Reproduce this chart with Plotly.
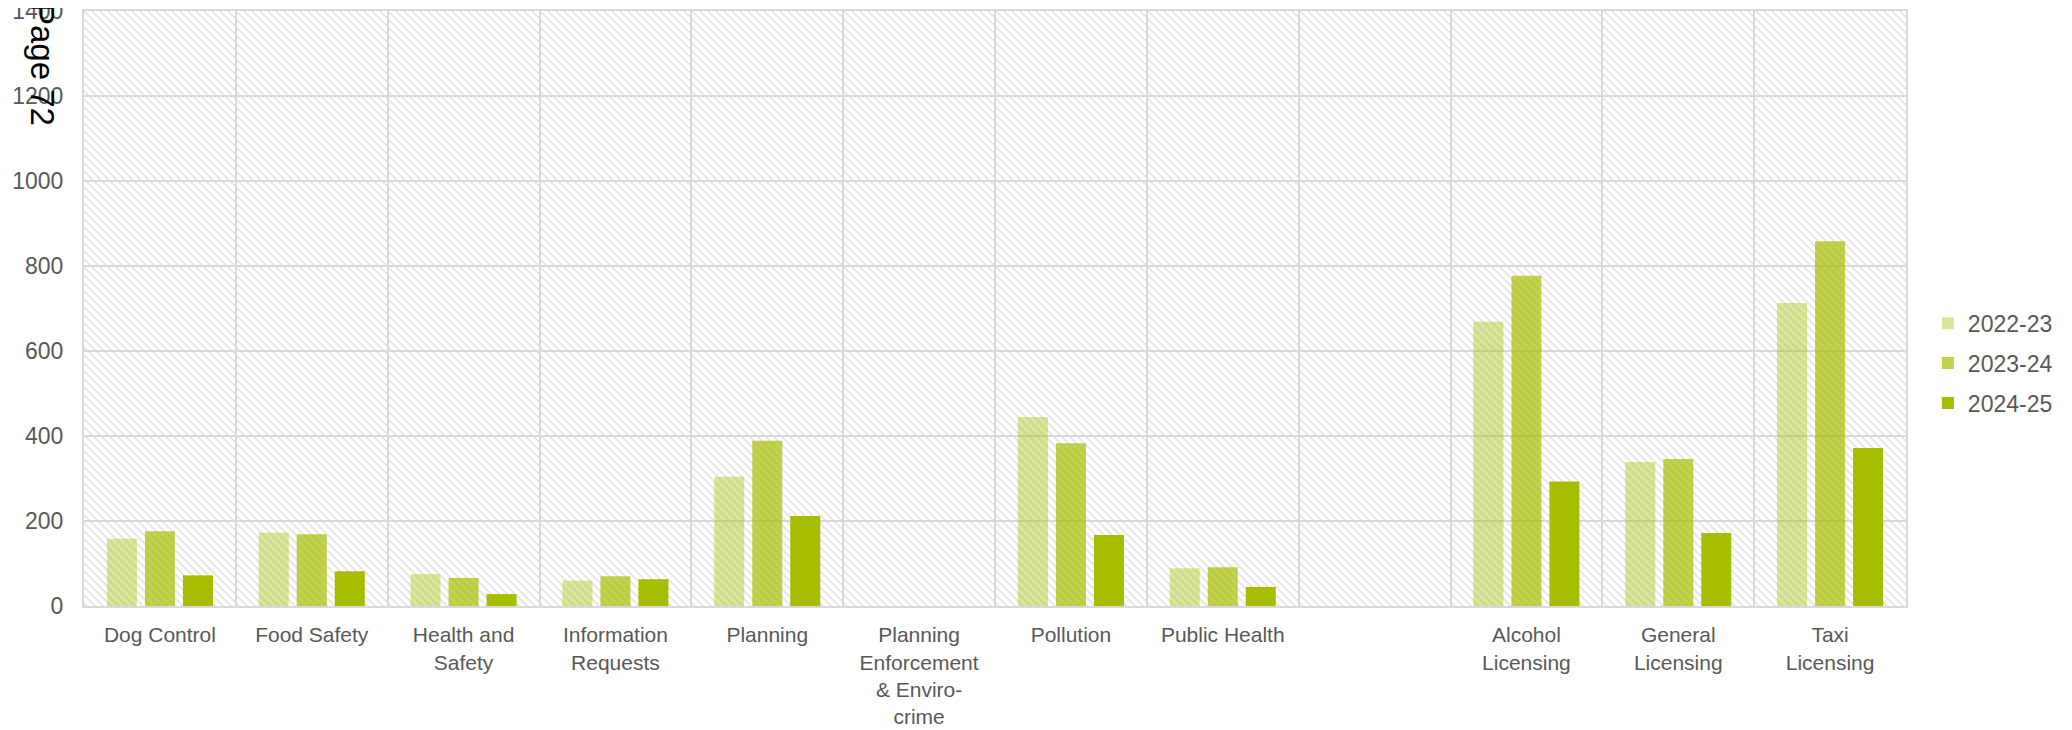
import base64
import plotly.graph_objects as go

categories = [
    "Dog Control", "Food Safety", "Health and<br>Safety", "Information<br>Requests",
    "Planning", "Planning<br>Enforcement<br>& Enviro-<br>crime", "Pollution",
    "Public Health", " ", "Alcohol<br>Licensing", "General<br>Licensing", "Taxi<br>Licensing",
]
series_names = ["2022-23", "2023-24", "2024-25"]
values_2022_23 = [158, 173, 75, 60, 304, None, 445, 89, None, 669, 339, 713]
values_2023_24 = [176, 169, 66, 70, 389, None, 383, 91, None, 777, 346, 858]
values_2024_25 = [72, 82, 28, 63, 212, None, 167, 45, None, 293, 172, 372]
y_ticks = [0, 200, 400, 600, 800, 1000, 1200, 1400]

colors = ["rgba(166,189,0,0.40)", "rgba(166,189,0,0.70)", "rgb(166,189,0)"]
FONT = "Liberation Sans, Arial, sans-serif"
TXT = "#595959"
GRID = "#d9d9d9"

# page body has an 8px margin, so the figure is sized to fit the window
W, H = 2064, 722
L, R, T, B = 76, 166, 3, 124
PW, PH = W - L - R, H - T - B

svg = f'''<svg xmlns="http://www.w3.org/2000/svg" width="{PW}" height="{PH}" viewBox="0 0 {PW} {PH}" preserveAspectRatio="none">
<defs><pattern id="h" width="8" height="8" patternUnits="userSpaceOnUse">
<path d="M-2,-2 L10,10 M-2,6 L2,10 M6,-2 L10,2" stroke="#dfdfdf" stroke-width="1.4"/>
</pattern></defs>
<rect width="{PW}" height="{PH}" fill="white"/>
<rect width="{PW}" height="{PH}" fill="url(#h)"/>
</svg>'''
src = "data:image/svg+xml;base64," + base64.b64encode(svg.encode()).decode()

fig = go.Figure()
for i, (name, vals) in enumerate(zip(series_names, [values_2022_23, values_2023_24, values_2024_25])):
    fig.add_trace(go.Bar(
        x=categories, y=vals, name=name, marker_color=colors[i],
        marker_line_width=0, legendgroup=name,
    ))

fig.update_layout(
    width=W, height=H,
    margin=dict(l=L, r=R, t=T, b=B, pad=0, autoexpand=False),
    paper_bgcolor="white", plot_bgcolor="white",
    barmode="group", bargap=0.249, bargroupgap=0.21,
    font=dict(family=FONT, size=23, color=TXT),
    showlegend=True,
    legend=dict(
        x=1.012, xanchor="left", y=0.408, yanchor="middle",
        font=dict(family=FONT, size=23, color=TXT),
        traceorder="grouped", tracegroupgap=7, itemwidth=30,
        bgcolor="rgba(0,0,0,0)",
    ),
    images=[dict(
        source=src, xref="paper", yref="paper", x=0, y=1, sizex=1, sizey=1,
        xanchor="left", yanchor="top", sizing="stretch", layer="below",
    )],
    annotations=[dict(
        text="Page 72", xref="paper", yref="paper",
        x=(35 - L) / PW, y=(H - B - 56) / PH, xanchor="center", yanchor="middle",
        textangle=90, showarrow=False,
        font=dict(family=FONT, size=33, color="black"),
    )],
)
fig.update_xaxes(
    type="category", tickson="boundaries", showgrid=True, gridcolor=GRID, gridwidth=1.5,
    showline=True, linecolor=GRID, linewidth=2, mirror=True, automargin=False,
    ticks="", ticklabelstandoff=9, tickangle=0, ticklabeloverflow="allow",
    tickfont=dict(family=FONT, size=21, color=TXT),
)
fig.update_yaxes(
    range=[0, 1400], tickvals=y_ticks, showgrid=True, gridcolor=GRID, gridwidth=1.5,
    showline=True, linecolor=GRID, linewidth=2, mirror=True, automargin=False,
    ticks="", ticklabelstandoff=14, zeroline=False, ticklabeloverflow="allow",
    tickfont=dict(family=FONT, size=23, color=TXT),
)

fig.write_html("out.html")
